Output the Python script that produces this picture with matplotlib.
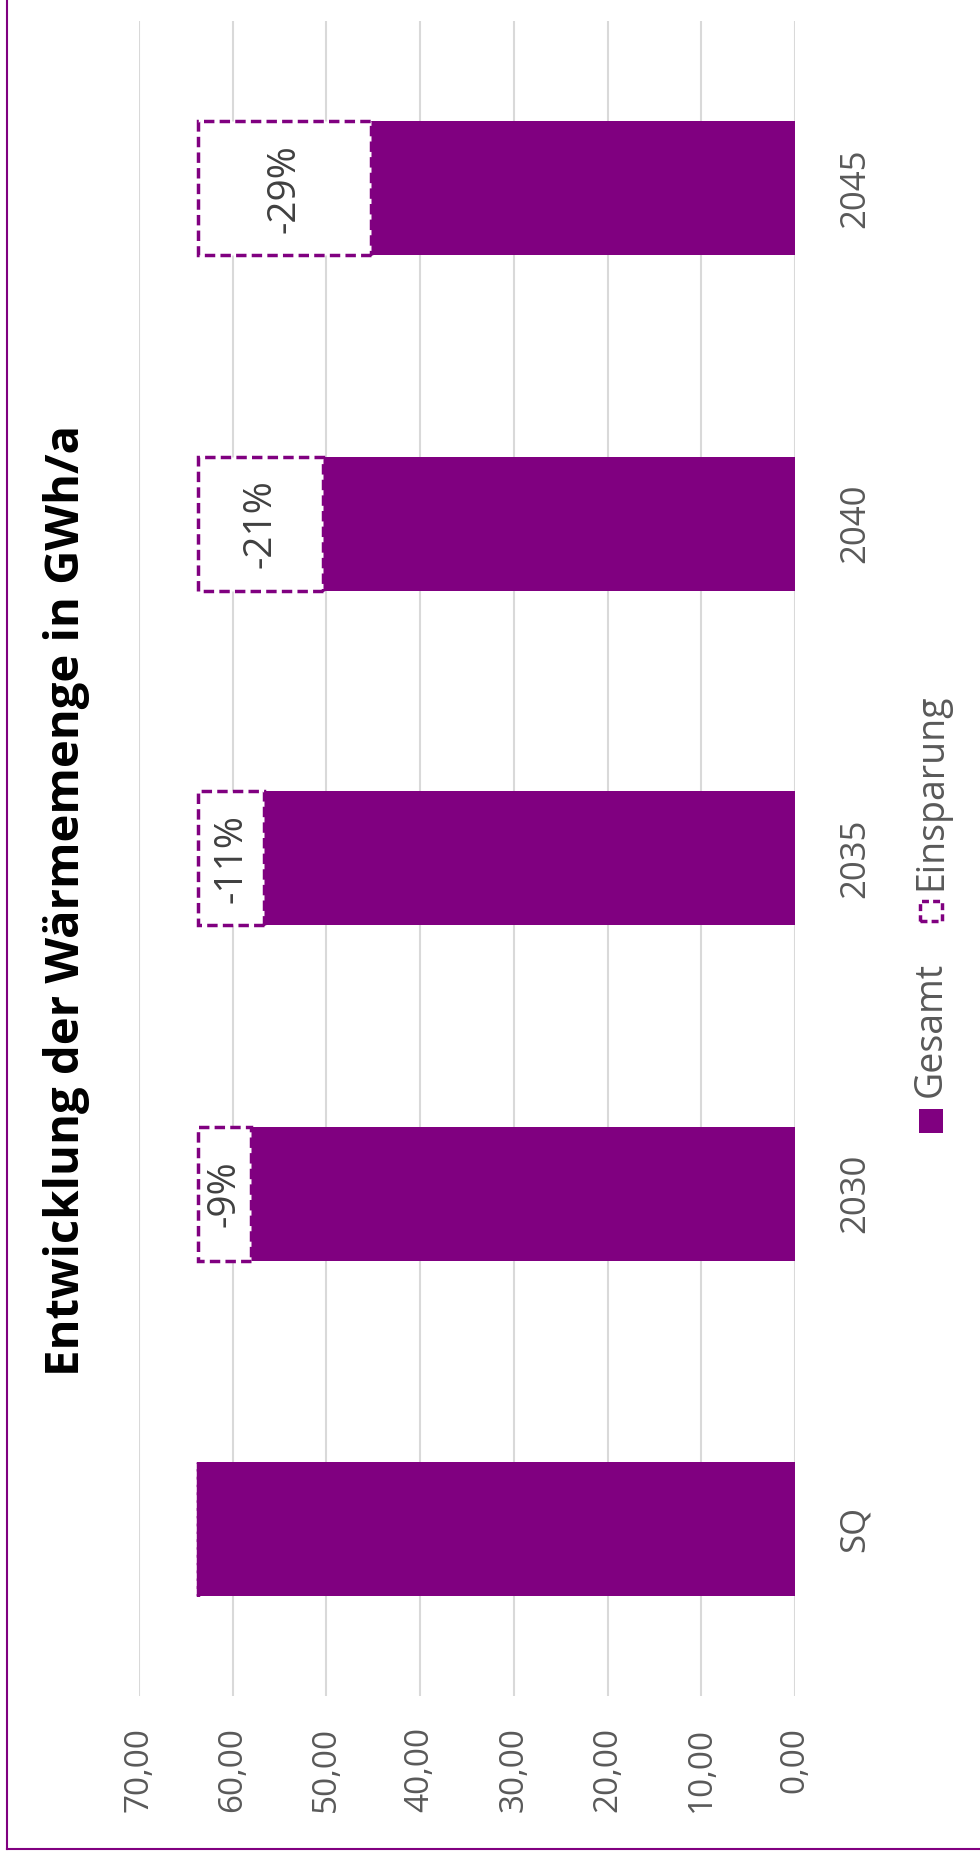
import matplotlib
matplotlib.use("Agg")
import matplotlib.pyplot as plt
from matplotlib.patches import Rectangle
from matplotlib.lines import Line2D

# data
categories = ['SQ', '2030', '2035', '2040', '2045']
gesamt = [63.7, 58.0, 56.6, 50.3, 45.2]
savings_labels = ['', '-9%', '-11%', '-21%', '-29%']
x_ticks = [0, 10, 20, 30, 40, 50, 60, 70]

purple = '#800080'
grey = '#595959'
plt.rcParams['font.family'] = ['Open Sans', 'DejaVu Sans']

W, H = 980, 1860
fig = plt.figure(figsize=(W / 100, H / 100), dpi=100)

# plot area (chart is rotated 90 degrees counter-clockwise)
ax = fig.add_axes([138.8 / W, 1 - 1696 / H, (795 - 138.8) / W, 1675 / H])

einsparung = [gesamt[0] - g for g in gesamt]
pos = list(range(len(categories)))

ax.barh(pos, gesamt, height=0.4, color=purple, zorder=3)
ax.barh(pos, einsparung, left=gesamt, height=0.4, facecolor='white',
        edgecolor=purple, linestyle=(0, (3, 1.5)), linewidth=2.5, zorder=3)

for i, lab in enumerate(savings_labels):
    if lab == '':
        continue
    ax.text(gesamt[i] + einsparung[i] / 2, pos[i], lab, rotation=90,
            ha='center', va='center', fontsize=28, color='#404040', zorder=4)

ax.set_xlim(70, 0)
ax.set_ylim(-0.5, len(categories) - 0.5)
ax.set_xticks(x_ticks)
ax.xaxis.set_major_formatter(matplotlib.ticker.FuncFormatter(
    lambda v, p: ('%.2f' % v).replace('.', ',')))
ax.tick_params(axis='x', length=0, pad=22, labelsize=24, labelcolor=grey,
               labelrotation=90)
ax.yaxis.tick_right()
ax.set_yticks(pos)
ax.set_yticklabels(categories)
ax.tick_params(axis='y', length=0, pad=31, labelsize=25, labelcolor=grey)
for t in ax.get_yticklabels():
    t.set_rotation(90)
    t.set_va('center')
ax.grid(axis='x', color='#d9d9d9', linewidth=1.5, zorder=0)
for s in ax.spines.values():
    s.set_visible(False)

# title
fig.text(67 / W, 1 - 901 / H, 'Entwicklung der Wärmemenge in GWh/a',
         rotation=90, ha='center', va='center', fontsize=34,
         fontweight='bold', color='black')

# legend (rotated by hand)
fig.add_artist(Rectangle((919 / W, 1 - 1133 / H), 24 / W, 24 / H,
                         transform=fig.transFigure, facecolor=purple,
                         edgecolor='none'))
fig.text(931 / W, 1 - 1097 / H, 'Gesamt', rotation=90, ha='center',
         va='bottom', fontsize=27, color=grey)
fig.add_artist(Rectangle((920 / W, 1 - 921 / H), 22 / W, 20 / H,
                         transform=fig.transFigure, facecolor='white',
                         edgecolor=purple, linewidth=2.5,
                         linestyle=(0, (2, 1.2))))
fig.text(931 / W, 1 - 890 / H, 'Einsparung', rotation=90, ha='center',
         va='bottom', fontsize=27, color=grey)

# frame
fig.add_artist(Line2D([7 / W, 7 / W], [11 / H, 1], transform=fig.transFigure,
                      color=purple, linewidth=1.5))
fig.add_artist(Line2D([7 / W, 1], [11 / H, 11 / H], transform=fig.transFigure,
                      color=purple, linewidth=1.5))

fig.savefig('out.png', dpi=100)
